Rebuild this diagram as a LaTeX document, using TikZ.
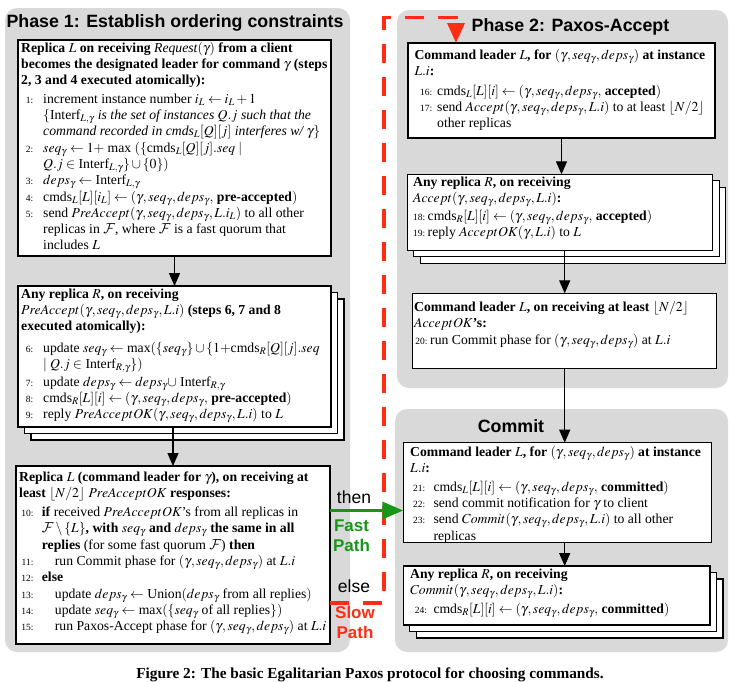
\documentclass[tikz,border=0pt]{standalone}
\usepackage{mathptmx}
\DeclareMathAlphabet{\mathcal}{OMS}{cmsy}{m}{n}
\usepackage{fontspec}
\setmainfont{Liberation Serif}
\newfontfamily\hsans{Liberation Sans}
\usetikzlibrary{arrows.meta,shadows,calc}
\definecolor{panelgray}{RGB}{217,217,217}
\definecolor{pgreen}{RGB}{24,150,24}
\definecolor{pred}{RGB}{255,45,20}
\newlength\numw
\newlength\numg
\newcommand\numfont{\fontsize{9.5}{11}\selectfont}
\newcommand\nm[1]{\makebox[\numw][r]{\numfont #1:}\hspace{\numg}}
\newcommand\ct{\hspace{\dimexpr\numw+\numg\relax}}
\newcommand\ind{\hspace{13pt}}
\begin{document}
\begin{tikzpicture}[x=1pt,y=-1pt,
  panel/.style={fill=panelgray, rounded corners=12pt},
  box/.style={draw, line width=1.2pt, fill=white, inner sep=0pt, outer sep=0pt, anchor=north west},
  stack/.style={box, double copy shadow={shadow xshift=6.5pt, shadow yshift=-6.5pt}},
  txt/.style={inner sep=0pt, anchor=north west, align=left, font=\fontsize{13.7}{16.3}\selectfont},
  ttl/.style={inner sep=0pt, anchor=base, font=\hsans\bfseries\fontsize{17.8}{20}\selectfont},
  lbl/.style={inner sep=0pt, anchor=base, font=\hsans\fontsize{17.5}{20}\selectfont},
  blbl/.style={inner sep=0pt, anchor=north, align=center, font=\hsans\bfseries\fontsize{17}{20}\selectfont},
  arr/.style={line width=1.3pt, -{Triangle[length=13pt,width=11pt]}},
  garr/.style={pgreen, line width=3.2pt, -{Triangle[length=21pt,width=17pt]}},
  rdash/.style={pred, line width=3.5pt, dash pattern=on 19pt off 14pt, -{Triangle[length=20pt,width=17pt]}}
]
\useasboundingbox (0,0) rectangle (738,681);

% panels
\fill[panel] (5,8) rectangle (350,652);
\fill[panel] (397,10) rectangle (728,388);
\fill[panel] (395,409) rectangle (728,652);

% titles
\node[ttl] (T1) at (175,27.5) {Phase 1: Establish ordering constraints};
\node[ttl] (T2) at (570.5,31) {Phase 2: Paxos-Accept};
\node[ttl] (T3) at (511,432) {Commit};

% boxes
\node[box, minimum width=313pt, minimum height=216pt] (B1) at (18,40) {};
\node[stack, minimum width=313pt, minimum height=141pt] (B2) at (18,286) {};
\node[box, minimum width=314pt, minimum height=178pt] (B3) at (16,466) {};
\node[box, minimum width=307pt, minimum height=95pt] (P2a) at (408,43) {};
\node[stack, minimum width=305.5pt, minimum height=76pt] (P2b) at (407.3,174.3) {};
\node[box, minimum width=304pt, minimum height=75pt] (P2c) at (412.7,293.3) {};
\node[box, minimum width=308.5pt, minimum height=100pt] (C1) at (403.3,442.7) {};
\node[stack, minimum width=306.7pt, minimum height=59pt] (C2) at (403.3,566) {};

% texts
\setlength\numw{12pt}\setlength\numg{10pt}
\node[txt] (B1t) at ($(B1.north west)+(3,1.9)$) {%
\textbf{Replica $L$ on receiving {\mdseries\itshape Request}$(\gamma)$ from a client}\\
\textbf{becomes the designated leader for command $\gamma$ (steps}\\
\textbf{2, 3 and 4 executed atomically):}\\[2pt]
\nm{1}increment instance number $i_L \leftarrow i_L+1$\\
\ct$\{$Interf$_{L,\gamma}$ \textit{is the set of instances $Q.j$ such that the}\\
\ct\textit{command recorded in cmds$_L[Q][j]$ interferes w/ $\gamma$}$\}$\\
\nm{2}$seq_\gamma \leftarrow 1+$ max $(\{$cmds$_L[Q][j].seq \mid$\\
\ct$Q.j \in$ Interf$_{L,\gamma}\} \cup \{0\})$\\
\nm{3}$deps_\gamma \leftarrow$ Interf$_{L,\gamma}$\\
\nm{4}cmds$_L[L][i_L] \leftarrow (\gamma, seq_\gamma, deps_\gamma,$ \textbf{pre-accepted}$)$\\
\nm{5}send $PreAccept(\gamma, seq_\gamma, deps_\gamma, L.i_L)$ to all other\\
\ct replicas in $\mathcal{F}$, where $\mathcal{F}$ is a fast quorum that\\
\ct includes $L$};

\setlength\numw{12pt}\setlength\numg{10pt}
\node[txt] (B2t) at ($(B2.north west)+(3,2.6)$) {%
\textbf{Any replica $R$, on receiving}\\
$PreAccept(\gamma, seq_\gamma, deps_\gamma, L.i)$ \textbf{(steps 6, 7 and 8}\\
\textbf{executed atomically):}\\[5pt]
\nm{6}update $seq_\gamma \leftarrow$ max$(\{seq_\gamma\} \cup \{1+$cmds$_R[Q][j].seq$\\
\ct$\mid Q.j \in$ Interf$_{R,\gamma}\})$\\[1.5pt]
\nm{7}update $deps_\gamma \leftarrow deps_\gamma \cup$ Interf$_{R,\gamma}$\\
\nm{8}cmds$_R[L][i] \leftarrow (\gamma, seq_\gamma, deps_\gamma,$ \textbf{pre-accepted}$)$\\
\nm{9}reply $PreAcceptOK(\gamma, seq_\gamma, deps_\gamma, L.i)$ to $L$};

\setlength\numw{14.3pt}\setlength\numg{8.4pt}
\node[txt] (B3t) at ($(B3.north west)+(3,5.6)$) {%
\textbf{Replica $L$ (command leader for $\gamma$), on receiving at}\\
\textbf{least $\lfloor N/2 \rfloor$ $PreAcceptOK$ responses:}\\[2.5pt]
\nm{10}\textbf{if} received $PreAcceptOK$'s from all replicas in\\
\ct$\mathcal{F} \setminus \{L\}$\textbf{, with} $seq_\gamma$ \textbf{and} $deps_\gamma$ \textbf{the same in all}\\
\ct\textbf{replies} (for some fast quorum $\mathcal{F}$) \textbf{then}\\
\nm{11}\ind run Commit phase for $(\gamma, seq_\gamma, deps_\gamma)$ at $L.i$\\
\nm{12}\textbf{else}\\
\nm{13}\ind update $deps_\gamma \leftarrow$ Union$(deps_\gamma$ from all replies$)$\\
\nm{14}\ind update $seq_\gamma \leftarrow$ max$(\{seq_\gamma$ of all replies$\})$\\
\nm{15}\ind run Paxos-Accept phase for $(\gamma, seq_\gamma, deps_\gamma)$ at $L.i$};

\setlength\numw{17.7pt}\setlength\numg{5pt}
\node[txt] (P2at) at ($(P2a.north west)+(6.3,5.6)$) {%
\textbf{Command leader $L$, for $(\gamma, seq_\gamma, deps_\gamma)$ at instance}\\
\textbf{$L.i$:}\\[3.5pt]
\nm{16}cmds$_L[L][i] \leftarrow (\gamma, seq_\gamma, deps_\gamma,$ \textbf{accepted}$)$\\
\nm{17}send $Accept(\gamma, seq_\gamma, deps_\gamma, L.i)$ to at least $\lfloor N/2 \rfloor$\\
\ct other replicas};

\setlength\numw{12pt}\setlength\numg{2.5pt}
\node[txt] (P2bt) at ($(P2b.north west)+(5.7,2.3)$) {%
\textbf{Any replica $R$, on receiving}\\
$Accept(\gamma, seq_\gamma, deps_\gamma, L.i)$\textbf{:}\\[1.5pt]
\nm{18}cmds$_R[L][i] \leftarrow (\gamma, seq_\gamma, deps_\gamma,$ \textbf{accepted}$)$\\
\nm{19}reply $AcceptOK(\gamma, L.i)$ to $L$};

\setlength\numw{13.3pt}\setlength\numg{2.7pt}
\node[txt] (P2ct) at ($(P2c.north west)+(1.3,7.3)$) {%
\textbf{Command leader $L$, on receiving at least $\lfloor N/2 \rfloor$}\\
$AcceptOK$\textbf{'s:}\\[1pt]
\nm{20}run Commit phase for $(\gamma, seq_\gamma, deps_\gamma)$ at $L.i$};

\setlength\numw{15pt}\setlength\numg{8.3pt}
\node[txt] (C1t) at ($(C1.north west)+(6.7,2.9)$) {%
\textbf{Command leader $L$, for $(\gamma, seq_\gamma, deps_\gamma)$ at instance}\\
\textbf{$L.i$:}\\[2.5pt]
\nm{21}cmds$_L[L][i] \leftarrow (\gamma, seq_\gamma, deps_\gamma,$ \textbf{committed}$)$\\
\nm{22}send commit notification for $\gamma$ to client\\
\nm{23}send $Commit(\gamma, seq_\gamma, deps_\gamma, L.i)$ to all other\\
\ct replicas};

\setlength\numw{16.7pt}\setlength\numg{6.6pt}
\node[txt] (C2t) at ($(C2.north west)+(6.7,2.6)$) {%
\textbf{Any replica $R$, on receiving}\\
$Commit(\gamma, seq_\gamma, deps_\gamma, L.i)$\textbf{:}\\[2.5pt]
\nm{24}cmds$_R[L][i] \leftarrow (\gamma, seq_\gamma, deps_\gamma,$ \textbf{committed}$)$};

% black connectors
\draw[arr] (B1.south) -- (B2.north);
\draw[arr] (B2.south -| B3.north) -- (B3.north);
\draw[arr] (P2a.south) -- (P2a.south |- P2b.north);
\draw[arr] (P2c.north |- P2b.south) -- (P2c.north);
\draw[arr] (P2c.south) -- (P2c.south |- C1.north);
\draw[arr] (C1.south -| P2c.south) -- (C2.north -| P2c.south);

% slow path (red dashed)
\coordinate (rs) at (B3.east |- 0,603);
\coordinate (r1) at (384,603);
\coordinate (r2) at (384,17.5);
\coordinate (r3) at (456,17.5);
\draw[rdash] (rs) -- (r1) -- (r2) -- (r3) -- (r3 |- P2a.north);

% fast path (green)
\coordinate (gy) at (0,510.5);
\draw[garr] (B3.east |- gy) -- (C1.west |- gy);

% labels
\node[lbl] (then) at (354,503) {then};
\node[blbl, text=pgreen] (fast) at (351.5,519.8) {Fast\\Path};
\node[lbl] (else) at (354,592) {else};
\node[blbl, text=pred] (slow) at (355,605.6) {Slow\\Path};

% caption
\node[inner sep=0pt, anchor=base, font=\bfseries\fontsize{15.3}{18}\selectfont] (cap) at (370,678)
  {Figure 2: The basic Egalitarian Paxos protocol for choosing commands.};
\end{tikzpicture}
\end{document}
